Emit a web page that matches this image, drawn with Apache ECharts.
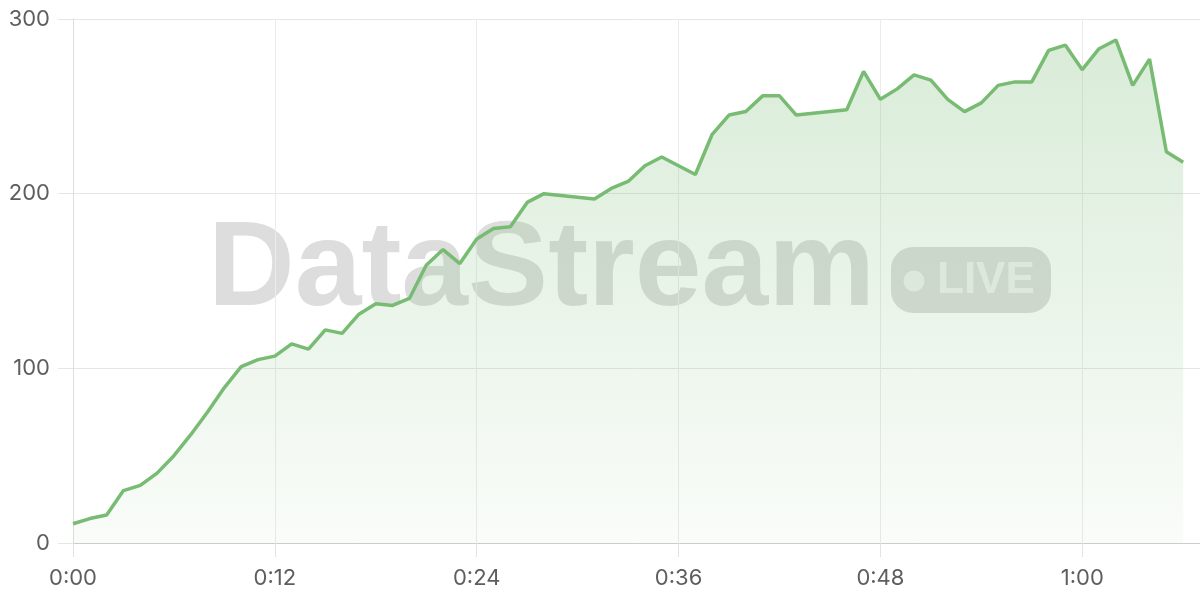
<!DOCTYPE html>
<html>
<head>
<meta charset="utf-8">
<script src="https://cdn.jsdelivr.net/npm/echarts@6/dist/echarts.min.js"></script>
<style>
html,body{margin:0;padding:0;background:#fff;}
#c{width:1200px;height:600px;}
</style>
</head>
<body>
<div id="c"></div>
<script>
// elapsed seconds of each sample
var seconds = [0,1,2,3,4,5,6,7,8,9,10,11,12,13,14,15,16,17,18,19,20,21,22,23,24,25,26,27,28,31,32,33,34,35,37,38,39,40,41,42,43,46,47,48,49,50,51,52,53,54,55,56,57,58,59,60,61,62,63,64,65,66];
// measured values
var values = [11,14,16,30,33,40,50,62,75,89,101,105,107,114,111,122,120,131,137,136,140,159,168,160,174,180,181,195,200,197,203,207,216,221,211,234,245,247,256,256,245,248,270,254,260,268,265,254,247,252,262,264,264,282,285,271,283,288,262,277,224,218];
var xTicks = [0,12,24,36,48,60];
var yTicks = [0,100,200,300];

function fmt(s){
  var m = Math.floor(s/60), r = Math.round(s%60);
  return m + ':' + (r<10?'0':'') + r;
}

var points = seconds.map(function(s,i){ return [s, values[i]]; });

var chart = echarts.init(document.getElementById('c'), null, {renderer:'canvas'});
var labelFont = 'Inter, "Noto Sans", sans-serif';
chart.setOption({
  animation:false,
  backgroundColor:'#fff',
  grid:{left:73,right:0,top:19,bottom:57,containLabel:false},
  graphic:[
    {type:'text', z:0, silent:true,
     style:{text:'DataStream', x:208, y:272, fill:'rgba(150,150,150,0.32)',
            font:'bold 120px "Liberation Sans", Arial, sans-serif', verticalAlign:'middle', textAlign:'left'}},
    {type:'rect', z:0, silent:true,
     shape:{x:891, y:247, width:160, height:66, r:22},
     style:{fill:'rgba(150,150,150,0.32)'}},
    {type:'circle', z:1, silent:true,
     shape:{cx:914, cy:281, r:10.5},
     style:{fill:'rgba(255,255,255,0.6)'}},
    {type:'text', z:1, silent:true,
     style:{text:'LIVE', x:937, y:281, fill:'rgba(255,255,255,0.6)',
            font:'bold 44px "Liberation Sans", Arial, sans-serif', verticalAlign:'middle', textAlign:'left'}}
  ],
  xAxis:{
    type:'value', min:0, max:67, interval:12,
    axisLine:{show:true, lineStyle:{color:'#cccccc', width:1}},
    axisTick:{show:true, length:14, lineStyle:{color:'#e3e3e3'}},
    axisLabel:{show:true, margin:24, color:'#5e5e5e', fontSize:22, fontFamily:labelFont,
      formatter:function(v){ return xTicks.indexOf(v)>=0 ? fmt(v) : ''; },
      showMaxLabel:false},
    splitLine:{show:true, lineStyle:{color:'#ebebeb', width:1}}
  },
  yAxis:{
    type:'value', min:0, max:300, interval:100,
    axisLine:{show:true, lineStyle:{color:'#dddddd', width:1}},
    axisTick:{show:true, length:15, lineStyle:{color:'#e6e6e6'}},
    axisLabel:{show:true, margin:23, color:'#5e5e5e', fontSize:22, fontFamily:labelFont,
      formatter:function(v){ return yTicks.indexOf(v)>=0 ? String(v) : ''; }},
    splitLine:{show:true, lineStyle:{color:'#e6e6e6', width:1}}
  },
  series:[{
    type:'line', data:points, showSymbol:false, symbol:'none', z:5,
    lineStyle:{color:'#78bb73', width:3.5},
    itemStyle:{color:'#78bb73'},
    areaStyle:{color:new echarts.graphic.LinearGradient(0,0,0,1,[
      {offset:0, color:'rgba(120,187,115,0.4)'},
      {offset:1, color:'rgba(120,187,115,0.06)'}
    ])}
  }]
});
</script>
</body>
</html>
